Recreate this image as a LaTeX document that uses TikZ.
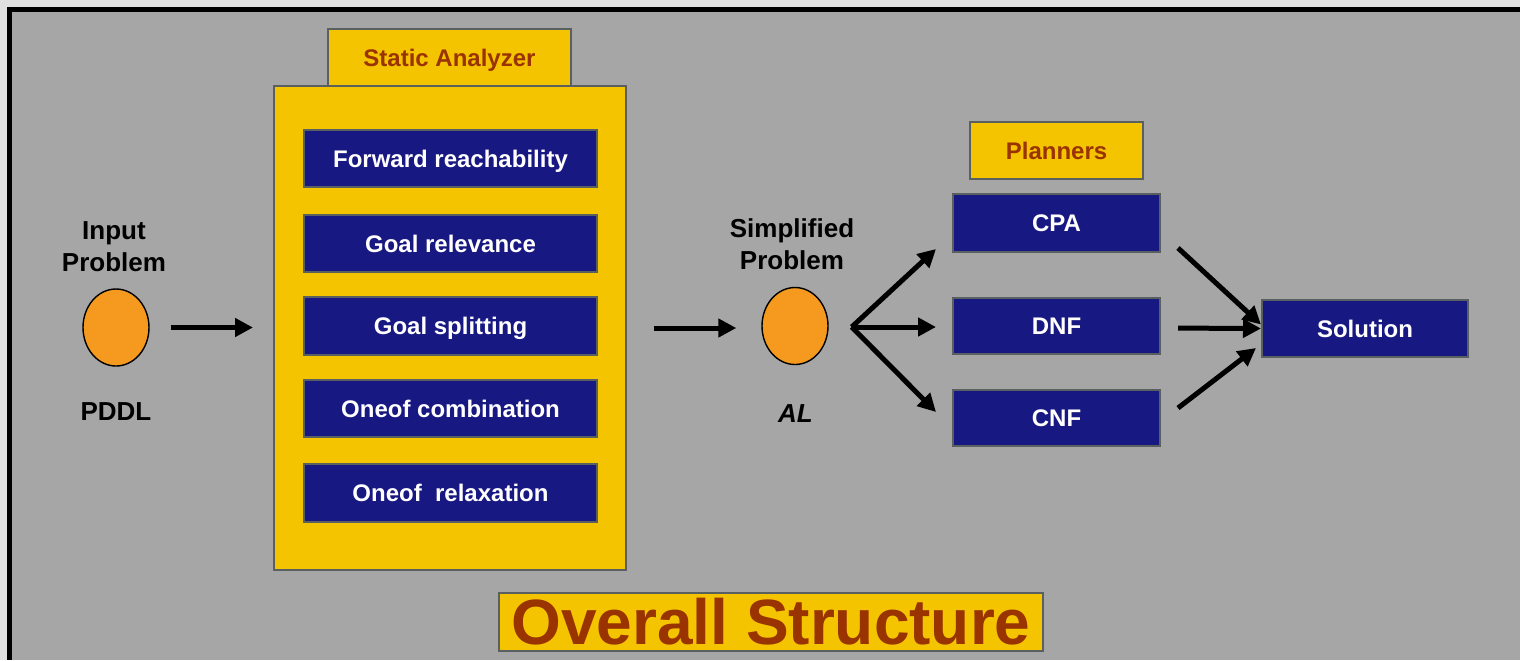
\documentclass[tikz,border=0pt]{standalone}
\usepackage{fontspec}
\setmainfont{Liberation Sans}
\usetikzlibrary{arrows.meta,calc,shapes.geometric}

\definecolor{bgray}{RGB}{166,166,166}
\definecolor{outergray}{RGB}{224,224,224}
\definecolor{gold}{RGB}{244,196,0}
\definecolor{navy}{RGB}{24,24,130}
\definecolor{rust}{RGB}{153,51,0}
\definecolor{edgegray}{RGB}{90,96,96}
\definecolor{orangefill}{RGB}{245,154,30}

\begin{document}
\begin{tikzpicture}[x=0.5pt,y=-0.5pt,
  boxbase/.style={rectangle, inner sep=0pt, draw=edgegray, line width=1pt,
    font=\bfseries\fontsize{12}{14}\selectfont, text height=8.6pt, text depth=0pt},
  bluebox/.style={boxbase, fill=navy, text=white},
  yellowbox/.style={boxbase, fill=gold, text=rust},
  sabox/.style={bluebox, minimum width=146.5pt, minimum height=28.75pt},
  plbox/.style={bluebox, minimum width=103.5pt, minimum height=28.5pt},
  titlebox/.style={yellowbox, font=\bfseries\fontsize{32}{38}\selectfont, text height=22.9pt},
  blob/.style={ellipse, draw=black, line width=0.7pt, fill=orangefill,
    minimum width=33pt, minimum height=38.5pt, inner sep=0pt},
  lbl/.style={inner sep=0pt, align=center, font=\bfseries\fontsize{13}{16.25}\selectfont},
  caplbl/.style={inner sep=0pt, font=\bfseries\fontsize{13}{16}\selectfont, text height=9.3pt, text depth=0pt},
  flow/.style={draw=black, line width=2.5pt, -{Triangle[length=9pt,width=9pt]}}
]
\useasboundingbox (0,0) rectangle (1520,660);
\fill[outergray] (0,0) rectangle (1520,660);
\fill[black] (7,7) rectangle (1520,660);
\fill[bgray] (12,12) rectangle (1520,660);

% Static analyzer
\node[yellowbox, minimum width=176pt, minimum height=242pt] (sa) at (450,328) {};
\node[yellowbox, minimum width=121.5pt, minimum height=28.5pt] (satab) at (449.5,57.5) {Static Analyzer};
\node[sabox] (fr) at (450.5,158.5) {Forward reachability};
\node[sabox] (gr) at (450.5,243.5) {Goal relevance};
\node[sabox] (gs) at (450.5,326) {Goal splitting};
\node[sabox] (oc) at (450.5,408.5) {Oneof combination};
\node[sabox] (orx) at (450.5,493) {Oneof\ \ relaxation};

% input problem
\node[blob] (in) at (116,327.5) {};
\node[lbl] (inlbl) at (114,246.7) {Input\\Problem};
\node[caplbl] (pddl) at (116,411) {PDDL};

% simplified problem
\node[blob] (simp) at (795,326) {};
\node[lbl] (simplbl) at (792,244) {Simplified\\Problem};
\node[caplbl, font=\bfseries\itshape\fontsize{13}{16}\selectfont] (al) at (795.5,413) {AL};

% planners
\node[yellowbox, minimum width=86.5pt, minimum height=28.5pt] (pl) at (1056.5,150.5) {Planners};
\node[plbox, minimum height=29pt] (cpa) at (1056.5,223) {CPA};
\node[plbox, minimum height=28pt] (dnf) at (1056.5,326) {DNF};
\node[plbox, minimum height=28pt] (cnf) at (1056.5,418) {CNF};
\node[plbox, minimum width=103pt] (sol) at (1365,328.5) {Solution};

% title
\node[titlebox, minimum width=272pt, minimum height=29pt] (title) at (771,622) {Overall Structure};

% connectors
\draw[flow, shorten <=10.5pt, shorten >=10pt] (in.east) -- (in.east -| sa.west);
\draw[flow, shorten <=13.5pt, shorten >=12.5pt] (sa.east) -- (sa.east -| simp.west);

\coordinate (fan) at ($(simp.east)+(23,1)$);
\draw[flow] (fan) -- ($(cpa.south west)+(-16,-4)$);
\draw[flow, shorten >=8pt] (fan) -- (fan -| dnf.west);
\draw[flow] (fan) -- ($(cnf.west)+(-16,-6)$);

\draw[flow] ($(cpa.south east)+(17,-5)$) -- ($(sol.west)+(0,-4)$);
\draw[flow, shorten <=8.5pt] ($(dnf.east)+(0,2)$) -- ($(sol.west)+(0,0)$);
\draw[flow] ($(cnf.north east)+(17,19)$) -- ($(sol.south west)+(-5,-10)$);
\end{tikzpicture}
\end{document}
